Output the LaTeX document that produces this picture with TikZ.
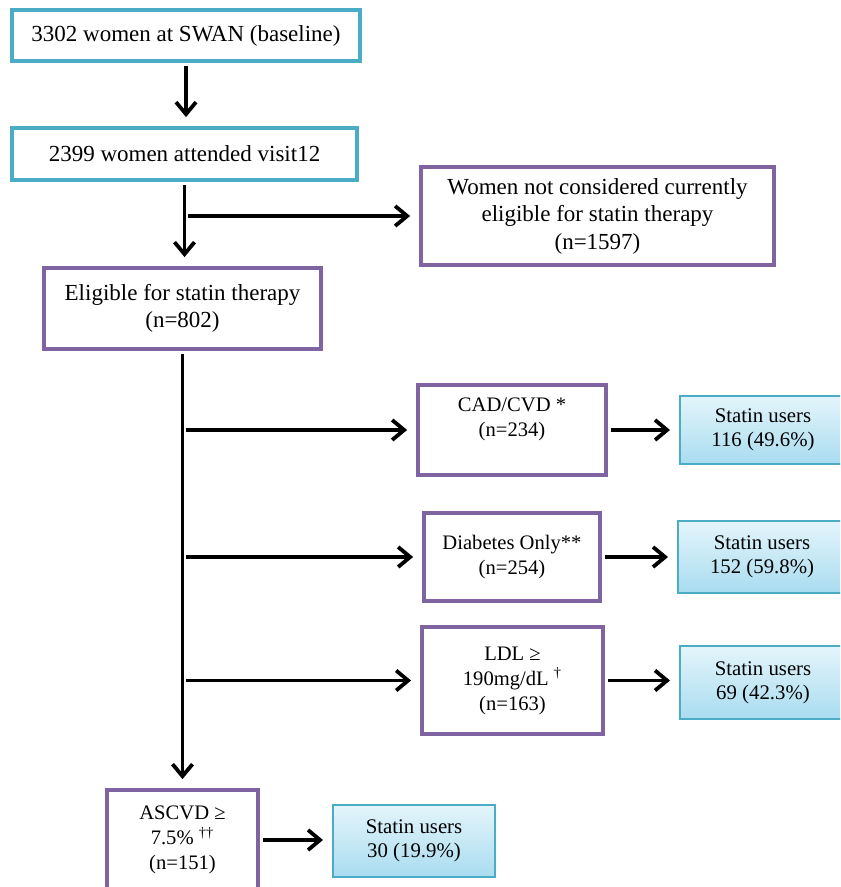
\documentclass[tikz,border=0pt]{standalone}
\usepackage{fontspec}
\setmainfont{Liberation Serif}
\usetikzlibrary{arrows.meta}
\definecolor{swanblue}{HTML}{4BACC6}
\definecolor{swanpurple}{HTML}{8064A2}
\definecolor{statintop}{HTML}{E4F5FB}
\definecolor{statinbot}{HTML}{A9DCF0}
\begin{document}
\begin{tikzpicture}[x=0.5pt,y=-0.5pt,
    bluebox/.style={draw=swanblue,line width=1.9pt,align=center,inner sep=0pt,
      font=\fontsize{11.5}{13.75}\selectfont},
    purplebox/.style={draw=swanpurple,line width=1.9pt,align=center,inner sep=0pt,
      font=\fontsize{11.5}{13.75}\selectfont},
    smallbox/.style={purplebox,font=\fontsize{10.3}{12.5}\selectfont},
    statinbox/.style={draw=swanblue,line width=1pt,top color=statintop,bottom color=statinbot,
      align=center,inner sep=0pt,minimum height=35pt,font=\fontsize{10.4}{12}\selectfont},
    arr/.style={line width=1.9pt,-{Straight Barb[length=6pt,width=10pt]},shorten >=4.5pt,shorten <=1.5pt}]
        \clip (0,0) rectangle (840,887);
        % main column
        \node[bluebox,minimum width=174pt,minimum height=25.5pt] (base) at (186,35.5) {3302 women at SWAN (baseline)};
        \node[bluebox,minimum width=172.5pt,minimum height=26pt] (visit) at (184.5,154) {2399 women attended visit12};
        \node[purplebox,minimum width=176.5pt,minimum height=49pt] (noteli) at (597.5,216)
            {Women not considered currently\\eligible for statin therapy\\(n=1597)};
        \node[purplebox,minimum width=138.5pt,minimum height=40.5pt] (eli) at (182.5,308.5)
            {Eligible for statin therapy\\(n=802)};
        % groups
        \node[smallbox,minimum width=94pt,minimum height=45pt] (cad) at (512,430) {CAD/CVD *\\(n=234)\\~};
        \node[smallbox,minimum width=88pt,minimum height=44pt] (diab) at (512,557) {Diabetes Only**\\(n=254)};
        \node[smallbox,minimum width=90.5pt,minimum height=53.5pt] (ldl) at (512.5,680.5)
            {LDL ≥\\190mg/dL \textsuperscript{†}\\(n=163)};
        \node[smallbox,minimum width=75.5pt,minimum height=50pt] (ascvd) at (182.5,840)
            {ASCVD ≥\\7.5\% \textsuperscript{††}\\(n=151)};
        % statin users
        \node[statinbox,minimum width=83pt,minimum height=34pt] (su1) at (763,430) {Statin users\\116 (49.6\%)};
        \node[statinbox,minimum width=84pt,minimum height=36pt] (su2) at (762,557) {Statin users\\152 (59.8\%)};
        \node[statinbox,minimum width=83pt,minimum height=36.5pt] (su3) at (763,682.5) {Statin users\\69 (42.3\%)};
        \node[statinbox,minimum width=81pt,minimum height=36pt] (su4) at (414,841) {Statin users\\30 (19.9\%)};
        % connectors
        \draw[arr] (base.south) -- (base.south |- visit.north);
        \draw[arr] (visit.south) -- (visit.south |- eli.north);
        \draw[arr] (visit.south |- noteli.west) -- (noteli.west);
        \draw[arr] (eli.south) -- (ascvd.north);
        \draw[arr] (eli.south |- cad.west) -- (cad.west);
        \draw[arr] (eli.south |- diab.west) -- (diab.west);
        \draw[arr] (eli.south |- ldl.west) -- (ldl.west);
        \draw[arr] (cad.east) -- (su1.west);
        \draw[arr] (diab.east) -- (su2.west);
        \draw[arr] (ldl.east) -- (ldl.east -| su3.west);
        \draw[arr] (ascvd.east) -- (ascvd.east -| su4.west);
    \end{tikzpicture}
\end{document}
